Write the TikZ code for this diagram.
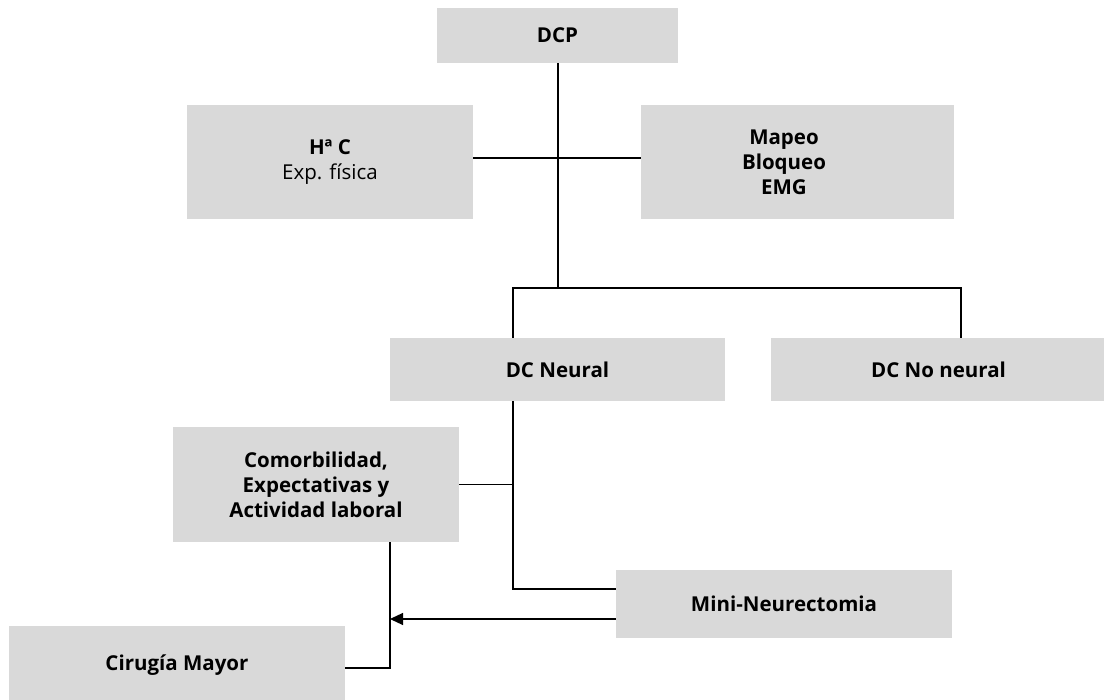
\documentclass[tikz,border=0pt]{standalone}
\usepackage{fontspec}
\setmainfont{Open Sans}
\usetikzlibrary{arrows.meta}
\definecolor{boxgray}{HTML}{D9D9D9}
\tikzset{
  box/.style={fill=boxgray, draw=none, align=center, inner sep=0pt,
    font=\fontsize{20.5}{25}\selectfont\bfseries},
  label/.style={align=center, inner sep=0pt,
    font=\fontsize{20.5}{25}\selectfont\bfseries},
  conn/.style={draw=black, line width=1.2pt},
}
\begin{document}
\begin{tikzpicture}[x=1pt,y=-1pt]
\useasboundingbox (0,0) rectangle (1104,700);
\node[box, minimum width=241pt, minimum height=55pt] (dcp) at (557.5,35.5) {DCP};
\node[box, minimum width=286pt, minimum height=114pt] (hc) at (330,162) {Hª C\\\mdseries Exp. física};
\node[box, minimum width=313pt, minimum height=114pt] (map) at (797.5,162) {};
\node[label] (maptext) at (784,162) {Mapeo\\Bloqueo\\EMG};
\node[box, minimum width=335pt, minimum height=63pt] (neu) at (557.5,369.5) {DC Neural};
\node[box, minimum width=335pt, minimum height=63pt] (nneu) at (938.5,369.5) {DC No neural};
\node[box, minimum width=286pt, minimum height=115pt] (com) at (316,484.5) {Comorbilidad,\\Expectativas y\\Actividad laboral};
\node[box, minimum width=336pt, minimum height=68pt] (mini) at (784,604) {Mini-Neurectomia};
\node[box, minimum width=336pt, minimum height=78pt] (cir) at (177,665) {Cirugía Mayor};

\coordinate (bl) at (513,288);
\coordinate (br) at (961,288);
\coordinate (bm) at (558,288);
\coordinate (cv) at (390,542);

\draw[conn] (dcp.south -| bm) -- (bm);
\draw[conn] ([yshift=4pt]hc.east) -- ([yshift=4pt]map.west);
\draw[conn] (bl |- neu.north) -- (bl) -- (br) -- (br |- nneu.north);
\draw[conn] (neu.south -| bl) |- ([yshift=15pt]mini.west);
\draw[conn] (com.east) -- (com.east -| bl);
\draw[conn] (cv |- com.south) |- ([yshift=-3pt]cir.east);
\coordinate (mA) at ([yshift=-15pt]mini.west);
\draw[conn, -{Triangle[length=13pt,width=12pt]}] (mA) -- (mA -| cv);
\end{tikzpicture}
\end{document}
